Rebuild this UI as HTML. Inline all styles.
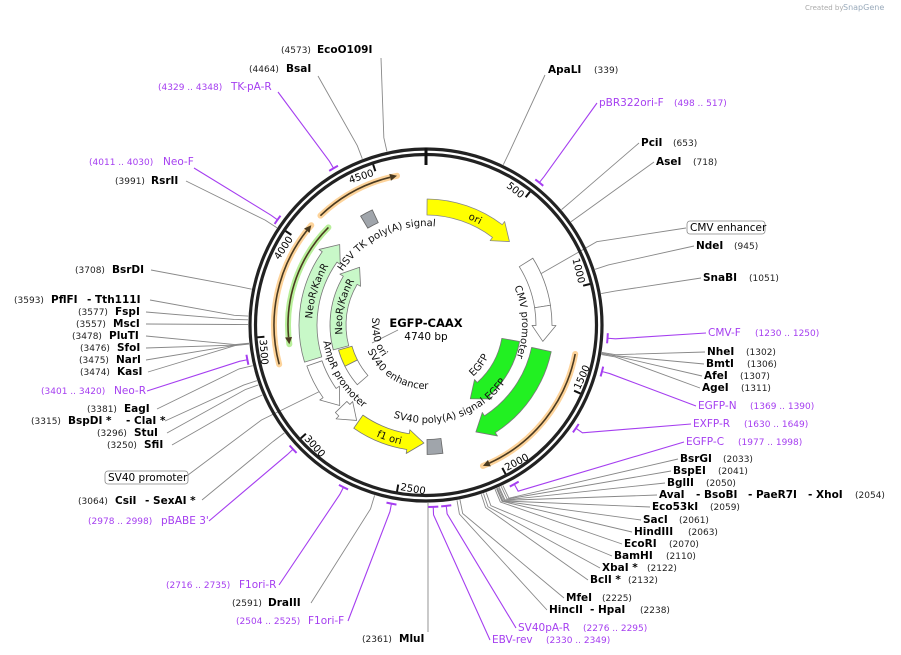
<!DOCTYPE html>
<html><head><meta charset="utf-8"><style>
html,body{margin:0;padding:0;background:#fff;}
svg{display:block;font-family:"DejaVu Sans","Liberation Sans",sans-serif;}
.n{font-weight:bold;font-size:10.5px;fill:#000;}
.p{font-size:9px;fill:#222;}
.pr{font-size:10.5px;fill:#a53ef0;}
.prn{font-size:9px;fill:#a53ef0;}
.t{font-size:10px;fill:#000;}
.f{font-size:10px;fill:#111;}
</style></head><body>
<svg id="s" width="901" height="655" viewBox="0 0 901 655" xmlns="http://www.w3.org/2000/svg">
<defs>
<path id="cw114" d="M426,211 A114,114 0 1 1 426,439 A114,114 0 1 1 426,211"/>
<path id="cw96" d="M426,229 A96,96 0 1 1 426,421 A96,96 0 1 1 426,229"/>
<path id="cw99b" d="M426,424 A99,99 0 1 1 426,226 A99,99 0 1 1 426,424"/>
<path id="cw84" d="M426,241 A84,84 0 1 1 426,409 A84,84 0 1 1 426,241"/>
<path id="ccw122" d="M426,203 A122,122 0 1 0 426,447 A122,122 0 1 0 426,203"/>
<path id="ccw98" d="M426,227 A98,98 0 1 0 426,423 A98,98 0 1 0 426,227"/>
<path id="ccw104" d="M426,221 A104,104 0 1 0 426,429 A104,104 0 1 0 426,221"/>
<path id="ccw70" d="M426,255 A70,70 0 1 0 426,395 A70,70 0 1 0 426,255"/>
<path id="ccw64" d="M426,261 A64,64 0 1 0 426,389 A64,64 0 1 0 426,261"/>
<path id="ccw54" d="M426,271 A54,54 0 1 0 426,379 A54,54 0 1 0 426,271"/>
</defs>
<g id="g"></g>
<text x="805" y="10" style="font-size:7px;fill:#aaa">Created by</text><text x="843" y="10" style="font-size:8px;fill:#9ab">SnapGene</text>

<g class="t">
<text transform="rotate(38 426 325)" x="423" y="167" text-anchor="end">500</text>
<text transform="rotate(76 426 325)" x="423" y="167" text-anchor="end">1000</text>
<text transform="rotate(304 426 325)" x="423" y="167" text-anchor="end">4000</text>
<text transform="rotate(342 426 325)" x="423" y="167" text-anchor="end">4500</text>
<text transform="rotate(-66 426 325)" x="429" y="492" text-anchor="start">1500</text>
<text transform="rotate(-28 426 325)" x="429" y="492" text-anchor="start">2000</text>
<text transform="rotate(10 426 325)" x="429" y="492" text-anchor="start">2500</text>
<text transform="rotate(48 426 325)" x="429" y="492" text-anchor="start">3000</text>
<text transform="rotate(86 426 325)" x="429" y="492" text-anchor="start">3500</text>
</g>

<g class="f">
<text><textPath href="#cw114" startOffset="6.9%" text-anchor="middle">ori</textPath></text>
<text><textPath href="#cw96" startOffset="24.5%" text-anchor="middle">CMV promoter</textPath></text>
<text><textPath href="#cw114" startOffset="79.8%" text-anchor="middle">NeoR/KanR</textPath></text>
<text><textPath href="#cw84" startOffset="78.5%" text-anchor="middle">NeoR/KanR</textPath></text>
<text><textPath href="#cw99b" startOffset="42.8%" text-anchor="middle">HSV TK poly(A) signal</textPath></text>
<text><textPath href="#ccw98" startOffset="63.1%" text-anchor="middle">EGFP</textPath></text>
<text><textPath href="#ccw70" startOffset="64.7%" text-anchor="middle">EGFP</textPath></text>
<text><textPath href="#ccw98" startOffset="52.5%" text-anchor="middle">SV40 poly(A) signal</textPath></text>
<text><textPath href="#ccw122" startOffset="45%" text-anchor="middle">f1 ori</textPath></text>
<text><textPath href="#ccw104" startOffset="33.6%" text-anchor="middle">AmpR promoter</textPath></text>
<text><textPath href="#ccw64" startOffset="41.1%" text-anchor="middle">SV40 enhancer</textPath></text>
<text><textPath href="#ccw54" startOffset="28.9%" text-anchor="middle">SV40 ori</textPath></text>
</g>
<text x="426" y="327" text-anchor="middle" style="font-weight:bold;font-size:11.5px">EGFP-CAAX</text>
<text x="426" y="340" text-anchor="middle" style="font-size:10.5px">4740 bp</text>

<text class="n" x="548" y="73">ApaLI</text><text class="p" x="594" y="73">(339)</text>
<text class="pr" x="599" y="106">pBR322ori-F</text><text class="prn" x="674" y="106">(498 .. 517)</text>
<text class="n" x="641" y="146">PciI</text><text class="p" x="673" y="146">(653)</text>
<text class="n" x="656" y="165">AseI</text><text class="p" x="693" y="165">(718)</text>
<rect x="687" y="221" width="78" height="13" rx="3" fill="#fff" stroke="#888" stroke-width="0.8"/>
<text x="690" y="231" style="font-size:10.5px">CMV enhancer</text>
<text class="n" x="696" y="249">NdeI</text><text class="p" x="734" y="249">(945)</text>
<text class="n" x="703" y="281">SnaBI</text><text class="p" x="749" y="281">(1051)</text>
<text class="pr" x="708" y="336">CMV-F</text><text class="prn" x="755" y="336">(1230 .. 1250)</text>
<text class="n" x="707" y="355">NheI</text><text class="p" x="746" y="355">(1302)</text>
<text class="n" x="706" y="367">BmtI</text><text class="p" x="747" y="367">(1306)</text>
<text class="n" x="704" y="379">AfeI</text><text class="p" x="740" y="379">(1307)</text>
<text class="n" x="702" y="391">AgeI</text><text class="p" x="741" y="391">(1311)</text>
<text class="pr" x="698" y="409">EGFP-N</text><text class="prn" x="750" y="409">(1369 .. 1390)</text>
<text class="pr" x="693" y="427">EXFP-R</text><text class="prn" x="744" y="427">(1630 .. 1649)</text>
<text class="pr" x="686" y="445">EGFP-C</text><text class="prn" x="738" y="445">(1977 .. 1998)</text>
<text class="n" x="680" y="462">BsrGI</text><text class="p" x="723" y="462">(2033)</text>
<text class="n" x="673" y="474">BspEI</text><text class="p" x="718" y="474">(2041)</text>
<text class="n" x="667" y="486">BglII</text><text class="p" x="706" y="486">(2050)</text>
<text class="n" x="659" y="498">AvaI</text><text class="n" x="696" y="498">- BsoBI</text><text class="n" x="748" y="498">- PaeR7I</text><text class="n" x="808" y="498">- XhoI</text><text class="p" x="855" y="498">(2054)</text>
<text class="n" x="652" y="510">Eco53kI</text><text class="p" x="710" y="510">(2059)</text>
<text class="n" x="643" y="523">SacI</text><text class="p" x="679" y="523">(2061)</text>
<text class="n" x="634" y="535">HindIII</text><text class="p" x="688" y="535">(2063)</text>
<text class="n" x="624" y="547">EcoRI</text><text class="p" x="669" y="547">(2070)</text>
<text class="n" x="614" y="559">BamHI</text><text class="p" x="666" y="559">(2110)</text>
<text class="n" x="602" y="571">XbaI *</text><text class="p" x="647" y="571">(2122)</text>
<text class="n" x="590" y="583">BclI *</text><text class="p" x="628" y="583">(2132)</text>
<text class="n" x="566" y="601">MfeI</text><text class="p" x="602" y="601">(2225)</text>
<text class="n" x="549" y="613">HincII</text><text class="n" x="590" y="613">- HpaI</text><text class="p" x="640" y="613">(2238)</text>
<text class="pr" x="518" y="631">SV40pA-R</text><text class="prn" x="583" y="631">(2276 .. 2295)</text>
<text class="pr" x="492" y="643">EBV-rev</text><text class="prn" x="546" y="643">(2330 .. 2349)</text>
<text class="p" x="362" y="642">(2361)</text><text class="n" x="399" y="642">MluI</text>

<text class="p" x="281" y="53">(4573)</text><text class="n" x="317" y="53">EcoO109I</text>
<text class="p" x="249" y="72">(4464)</text><text class="n" x="286" y="72">BsaI</text>
<text class="prn" x="158" y="90">(4329 .. 4348)</text><text class="pr" x="231" y="90">TK-pA-R</text>
<text class="prn" x="89" y="165">(4011 .. 4030)</text><text class="pr" x="163" y="165">Neo-F</text>
<text class="p" x="115" y="184">(3991)</text><text class="n" x="151" y="184">RsrII</text>
<text class="p" x="75" y="273">(3708)</text><text class="n" x="112" y="273">BsrDI</text>
<text class="p" x="14" y="303">(3593)</text><text class="n" x="51" y="303">PflFI</text><text class="n" x="87" y="303">- Tth111I</text>
<text class="p" x="78" y="315">(3577)</text><text class="n" x="115" y="315">FspI</text>
<text class="p" x="76" y="327">(3557)</text><text class="n" x="113" y="327">MscI</text>
<text class="p" x="72" y="339">(3478)</text><text class="n" x="109" y="339">PluTI</text>
<text class="p" x="80" y="351">(3476)</text><text class="n" x="117" y="351">SfoI</text>
<text class="p" x="79" y="363">(3475)</text><text class="n" x="116" y="363">NarI</text>
<text class="p" x="80" y="375">(3474)</text><text class="n" x="117" y="375">KasI</text>
<text class="prn" x="41" y="394">(3401 .. 3420)</text><text class="pr" x="114" y="394">Neo-R</text>
<text class="p" x="87" y="412">(3381)</text><text class="n" x="124" y="412">EagI</text>
<text class="p" x="31" y="424">(3315)</text><text class="n" x="68" y="424">BspDI *</text><text class="n" x="126" y="424">- ClaI *</text>
<text class="p" x="97" y="436">(3296)</text><text class="n" x="134" y="436">StuI</text>
<text class="p" x="107" y="448">(3250)</text><text class="n" x="144" y="448">SfiI</text>
<rect x="105" y="471" width="83" height="13" rx="3" fill="#fff" stroke="#888" stroke-width="0.8"/>
<text x="108" y="481" style="font-size:10.5px">SV40 promoter</text>
<text class="p" x="78" y="504">(3064)</text><text class="n" x="115" y="504">CsiI</text><text class="n" x="145" y="504">- SexAI *</text>
<text class="prn" x="88" y="524">(2978 .. 2998)</text><text class="pr" x="161" y="524">pBABE 3'</text>
<text class="prn" x="166" y="588">(2716 .. 2735)</text><text class="pr" x="239" y="588">F1ori-R</text>
<text class="p" x="232" y="606">(2591)</text><text class="n" x="268" y="606">DraIII</text>
<text class="prn" x="236" y="624">(2504 .. 2525)</text><text class="pr" x="308" y="624">F1ori-F</text>
</svg>
<script>
(function(){
var NS="http://www.w3.org/2000/svg",g=document.getElementById("g");
var CX=426,CY=325;
function P(r,a){a=a*Math.PI/180;return [CX+r*Math.sin(a),CY-r*Math.cos(a)];}
function el(n,at){var e=document.createElementNS(NS,n);for(var k in at)e.setAttribute(k,at[k]);g.appendChild(e);return e;}
function pt(p){return p[0].toFixed(2)+","+p[1].toFixed(2);}
function arc(r,a1,a2){var sw=a2>a1?1:0;var lg=Math.abs(a2-a1)>180?1:0;return "A"+r+","+r+" 0 "+lg+" "+sw+" "+pt(P(r,a2));}
function band(r,w,a1,a2,fill,stroke){var ro=r+w/2,ri=r-w/2;
 var d="M"+pt(P(ro,a1))+arc(ro,a1,a2)+"L"+pt(P(ri,a2))+arc(ri,a2,a1)+"Z";
 el("path",{d:d,fill:fill,stroke:stroke||"#777","stroke-width":0.8});}
function arrow(r,w,a1,a2,fill,stroke){
 var ro=r+w/2,ri=r-w/2,dir=a2>a1?1:-1,h=16/r*180/Math.PI,b=a2-dir*h;
 var d="M"+pt(P(ro,a1))+arc(ro,a1,b)+"L"+pt(P(ro+4,b))+"L"+pt(P(r,a2))+"L"+pt(P(ri-4,b))+"L"+pt(P(ri,b))+arc(ri,b,a1)+"Z";
 el("path",{d:d,fill:fill,stroke:stroke||"#777","stroke-width":0.8,"stroke-linejoin":"round"});}
function ang(bp){return bp/4740*360;}
var L=[
[339,545,75],[653,639,143],[718,654,162],[945,694,246],[1051,701,278],
[1302,705,352],[1306,704,364],[1307,702,376],[1311,700,388],
[2033,678,459],[2041,671,471],[2050,665,483],[2054,657,495],[2059,650,507],[2061,641,520],[2063,632,532],[2070,622,544],[2110,612,556],[2122,600,568],[2132,588,580],[2225,564,598],[2238,547,610],
[4573,381,58],[4464,318,76],[3991,186,181],[3708,151,270],[3593,150,300],[3577,146,312],[3557,146,324],[3478,146,336],[3476,146,348],[3475,146,360],[3474,148,372],[3381,157,409],[3315,165,421],[3296,167,433],[3250,172,445],[3064,202,500],[2591,311,603]];
L.forEach(function(e){var a=ang(e[0]),p1=P(178,a),p2=P(192,a);
 el("path",{d:"M"+pt(p1)+"L"+pt(p2)+"L"+e[1]+","+e[2],fill:"none",stroke:"#888","stroke-width":0.9});});
el("line",{x1:428,y1:632,x2:428,y2:503,stroke:"#888","stroke-width":0.9});
el("path",{d:"M686,228 L"+pt(P(190,64))+"L"+pt(P(125,66)),fill:"none",stroke:"#888","stroke-width":0.9});
el("path",{d:"M188,475 L"+pt(P(190,240))+"L"+pt(P(125,238)),fill:"none",stroke:"#888","stroke-width":0.9});
var PR=[[507,597,103],[1240,706,333],[1380,696,406],[1640,691,424],[1988,684,442],[2286,516,628],[2340,490,640],
[4338,278,92],[4020,194,168],[3410,147,391],[2988,209,521],[2725,279,585],[2514,348,621]];
PR.forEach(function(e){var a=ang(e[0]),p1=P(182,a),p2=P(190,a);
 el("path",{d:"M"+pt(p1)+"L"+pt(p2)+"L"+e[1]+","+e[2],fill:"none",stroke:"#a53ef0","stroke-width":1.1});
 el("path",{d:"M"+pt(P(182,a-1.6))+arc(182,a-1.6,a+1.6),fill:"none",stroke:"#a53ef0","stroke-width":2});});
el("circle",{cx:CX,cy:CY,r:176,fill:"none",stroke:"#222","stroke-width":3.2});
el("circle",{cx:CX,cy:CY,r:170.5,fill:"none",stroke:"#222","stroke-width":3.2});
for(var k=1;k<10;k++){var a=ang(k*500);el("path",{d:"M"+pt(P(169,a))+"L"+pt(P(162,a)),stroke:"#111","stroke-width":2});}
el("path",{d:"M426,148 L426,165",stroke:"#111","stroke-width":3});
function hl(r,a1,a2,col){
 el("path",{d:"M"+pt(P(r,a1))+arc(r,a1,a2),fill:"none",stroke:col,"stroke-width":6,"stroke-linecap":"round"});
 var dir=a2>a1?1:-1,h=7/r*180/Math.PI,b=a2-dir*h;
 el("path",{d:"M"+pt(P(r,a1))+arc(r,a1,b),fill:"none",stroke:"#4a3a20","stroke-width":1.6});
 el("path",{d:"M"+pt(P(r+3.5,b))+"L"+pt(P(r,a2))+"L"+pt(P(r-3.5,b))+"Z",fill:"#4a3a20"});}
hl(152,316,349,"#fdd39a");hl(152,255,311,"#fdd39a");hl(152,101,158,"#fdd39a");hl(138,315,262,"#b8ef9a");
arrow(118,16,0.5,45,"#ffff00","#888");
band(118,16,58,81,"#fff","#777");arrow(118,16,81,98,"#fff","#777");
arrow(118,20,102,155,"#22f022","#777");
arrow(86,18,100,149,"#22f022","#777");
band(122,15,172.5,179.5,"#a0a5ab","#666");
arrow(118,16,215,181,"#ffff00","#777");
arrow(118,16,226,216,"#fff","#777");
arrow(118,16,251,227,"#fff","#777");
arrow(118,18,253,313,"#c8f8c8","#777");
arrow(88,16,255,311,"#c8f8c8","#777");
band(84,14,243,254,"#ffff00","#777");
band(84,14,229,243,"#fff","#777");
band(120,14,329,335,"#a0a5ab","#666");
el("line",{x1:398,y1:330,x2:372,y2:343,stroke:"#888","stroke-width":0.8});
})();
</script>
</body></html>
